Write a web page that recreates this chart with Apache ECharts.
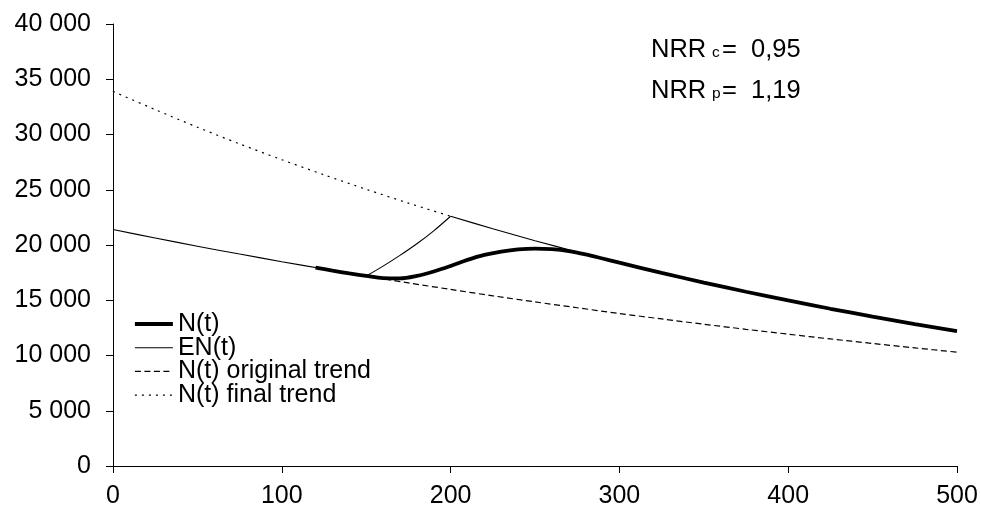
<!DOCTYPE html>
<html>
<head>
<meta charset="utf-8">
<script src="https://cdn.jsdelivr.net/npm/echarts@6/dist/echarts.min.js"></script>
<style>
html, body { margin: 0; padding: 0; background: #fff; }
#main { width: 981px; height: 517px; }
</style>
</head>
<body>
<div id="main"></div>
<script>
// N(t) - thick line
var nT = [120, 130, 140, 150, 160, 170, 180, 190, 200, 210, 220, 230, 240, 250, 260, 270, 280, 290, 300, 325, 350, 375, 400, 425, 450, 475, 500];
var nV = [17950, 17680, 17430, 17200, 17000, 16980, 17200, 17600, 18100, 18650, 19100, 19400, 19600, 19680, 19620, 19450, 19150, 18780, 18400, 17480, 16600, 15770, 14980, 14230, 13520, 12840, 12200];

// EN(t) - thin line (corners at t = 150 and t = 200)
var enT = [0, 25, 50, 75, 100, 125, 150, 160, 170, 180, 190, 200, 225, 250, 275, 300, 325, 350, 375, 400, 425, 450, 475, 500];
var enV = [21400, 20630, 19890, 19180, 18490, 17830, 17190, 18090, 19060, 20110, 21280, 22600, 21470, 20390, 19370, 18400, 17480, 16600, 15770, 14980, 14230, 13520, 12840, 12200];
var enCorners = [150, 200];

// N(t) original trend - dashed
var origT = [150, 175, 200, 225, 250, 275, 300, 325, 350, 375, 400, 425, 450, 475, 500];
var origV = [17190, 16570, 15980, 15400, 14850, 14320, 13800, 13310, 12830, 12370, 11930, 11500, 11090, 10690, 10300];

// N(t) final trend - dotted
var finT = [0, 25, 50, 75, 100, 125, 150, 175, 200];
var finV = [33900, 32250, 30660, 29150, 27720, 26350, 25040, 23790, 22600];

var yTicks = [0, 5000, 10000, 15000, 20000, 25000, 30000, 35000, 40000];

function pairs(t, v) {
    var out = [];
    for (var i = 0; i < t.length; i++) out.push([t[i], v[i]]);
    return out;
}

function fmt(v) {
    return String(v).replace(/\B(?=(\d{3})+(?!\d))/g, ' ');
}

var chart = echarts.init(document.getElementById('main'));
var font = 'Arial, "Liberation Sans", sans-serif';
var big = 25.5, small = 15.5;

var styles = {
    'N(t)': { color: '#000', width: 3.8 },
    'EN(t)': { color: '#000', width: 1.1 },
    'N(t) original trend': { color: '#000', width: 1.2, type: [6, 3.5] },
    'N(t) final trend': { color: '#000', width: 1.2, type: [2, 5] }
};

function txt(text, x, y, size) {
    return {
        type: 'text',
        x: x,
        y: y,
        style: { text: text, fontSize: size, fontFamily: font, fill: '#000', verticalAlign: 'middle', align: 'left' }
    };
}

function lineSeries(name, data, smooth, z) {
    return {
        name: name,
        type: 'line',
        data: data,
        symbol: 'none',
        smooth: smooth,
        lineStyle: styles[name],
        itemStyle: { color: '#000' },
        z: z
    };
}

var series = [
    lineSeries('N(t) final trend', pairs(finT, finV), 0.3, 1),
    lineSeries('N(t) original trend', pairs(origT, origV), 0.3, 1)
];

// EN(t) drawn in pieces so the corners stay sharp
var cuts = [0].concat(enCorners.map(function (c) { return enT.indexOf(c); })).concat([enT.length - 1]);
for (var c = 0; c < cuts.length - 1; c++) {
    series.push(lineSeries('EN(t)', pairs(enT.slice(cuts[c], cuts[c + 1] + 1), enV.slice(cuts[c], cuts[c + 1] + 1)), 0.3, 2));
}
series.push(lineSeries('N(t)', pairs(nT, nV), 0.35, 3));

var legendNames = ['N(t)', 'EN(t)', 'N(t) original trend', 'N(t) final trend'];

var option = {
    backgroundColor: '#fff',
    animation: false,
    grid: { left: 113, right: 24, top: 24, bottom: 51 },
    legend: {
        orient: 'vertical',
        left: 133,
        top: 311.5,
        padding: 0,
        itemWidth: 38,
        itemHeight: 14,
        itemGap: -1.3,
        itemStyle: { opacity: 0 },
        textStyle: { fontSize: 25, fontFamily: font, color: '#000' },
        data: legendNames.map(function (n) {
            return { name: n, lineStyle: styles[n] };
        })
    },
    xAxis: {
        type: 'value',
        min: 0,
        max: 500,
        interval: 100,
        axisLine: { lineStyle: { color: '#000', width: 1 } },
        axisTick: { length: 7, lineStyle: { color: '#000' } },
        axisLabel: { fontSize: 25, fontFamily: font, color: '#000', margin: 18 },
        splitLine: { show: false }
    },
    yAxis: {
        type: 'value',
        min: yTicks[0],
        max: yTicks[yTicks.length - 1],
        interval: 5000,
        axisLine: { show: true, lineStyle: { color: '#000', width: 1 } },
        axisTick: { show: true, length: 7, lineStyle: { color: '#000' } },
        axisLabel: { fontSize: 25, fontFamily: font, color: '#000', margin: 22, formatter: fmt },
        splitLine: { show: false }
    },
    graphic: [
        txt('NRR', 651, 49.5, big),
        txt('c', 712, 53, small),
        txt('=  0,95', 722, 49.5, big),
        txt('NRR', 651, 90.5, big),
        txt('p', 712, 94, small),
        txt('=  1,19', 722, 90.5, big)
    ],
    series: series
};

chart.setOption(option);
</script>
</body>
</html>
